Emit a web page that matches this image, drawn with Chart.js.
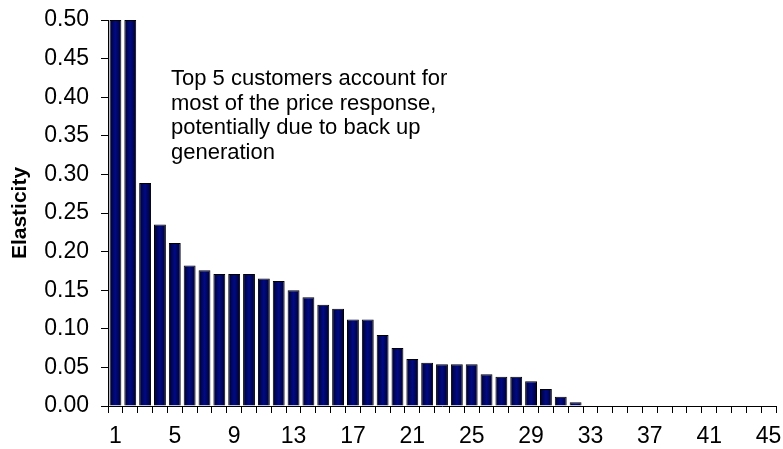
<!DOCTYPE html>
<html>
<head>
<meta charset="utf-8">
<script src="https://cdn.jsdelivr.net/npm/chart.js@4.4.1/dist/chart.umd.min.js"></script>
<style>
  html, body { margin: 0; padding: 0; background: #fff; }
  #wrap { width: 783px; height: 449px; }
</style>
</head>
<body>
<div id="wrap"><canvas id="myChart"></canvas></div>
<script>
// customers ranked by price elasticity
const customers = Array.from({ length: 45 }, (_, i) => String(i + 1));
const elasticity = [
  0.50, 0.50, 0.289, 0.235, 0.211, 0.182, 0.176, 0.171, 0.171, 0.171,
  0.165, 0.162, 0.150, 0.141, 0.131, 0.126, 0.112, 0.112, 0.092, 0.075,
  0.061, 0.056, 0.054, 0.054, 0.054, 0.041, 0.038, 0.038, 0.032, 0.022,
  0.012, 0.005, 0, 0, 0, 0, 0, 0, 0, 0,
  0, 0, 0, 0, 0
];
const yTicks = [0, 0.05, 0.10, 0.15, 0.20, 0.25, 0.30, 0.35, 0.40, 0.45, 0.50];
const noteLines = [
  "Top 5 customers account for",
  "most of the price response,",
  "potentially due to back up",
  "generation"
];

const FONT = "'Liberation Sans', Arial, sans-serif";

// navy bars, darker at the edges
function barFill(ctx) {
  const chart = ctx.chart;
  const xs = chart.scales.x;
  if (!xs || !chart.chartArea || ctx.dataIndex === undefined) return "#000a7a";
  const cx = xs.getPixelForValue(ctx.dataIndex);
  const w = xs.width / customers.length * 0.8;
  const g = chart.ctx.createLinearGradient(cx - w / 2, 0, cx + w / 2, 0);
  g.addColorStop(0, "#00002a");
  g.addColorStop(0.5, "#000a85");
  g.addColorStop(1, "#00002a");
  return g;
}

// text note inside the plot
const notePlugin = {
  id: "note",
  afterDraw(chart) {
    const c = chart.ctx;
    c.save();
    c.fillStyle = "#000";
    c.font = "22px " + FONT;
    c.textBaseline = "alphabetic";
    noteLines.forEach((t, i) => c.fillText(t, 171, 85 + i * 24.6));
    c.restore();
  }
};

const config = {
  type: "bar",
  data: {
    labels: customers,
    datasets: [
      {
        label: "Elasticity",
        data: elasticity,
        backgroundColor: barFill,
        borderColor: "#000",
        borderWidth: 1,
        borderSkipped: "bottom",
        barPercentage: 0.8,
        categoryPercentage: 1.0,
      },
    ],
  },
  options: {
    responsive: true,
    maintainAspectRatio: false,
    animation: false,
    layout: { padding: { top: 20, right: 7, left: 0, bottom: 0 } },
    plugins: {
      legend: { display: false },
      tooltip: { enabled: false },
    },
    scales: {
      x: {
        offset: true,
        afterFit: (axis) => {
          axis.height = 43;
          axis.paddingLeft = 0;
          axis.paddingRight = 0;
        },
        grid: {
          offset: true,
          drawOnChartArea: false,
          drawTicks: true,
          tickLength: 7,
          color: "#000",
        },
        border: { color: "#000", width: 1 },
        ticks: {
          autoSkip: false,
          maxRotation: 0,
          color: "#000",
          font: { family: FONT, size: 23 },
          padding: 10,
          callback: (v, i) => (i % 4 === 0 ? customers[i] : ""),
        },
      },
      y: {
        min: 0,
        max: 0.5,
        afterFit: (axis) => {
          axis.width = 108;
          axis.paddingTop = 0;
          axis.paddingBottom = 0;
        },
        afterBuildTicks: (axis) => {
          axis.ticks = yTicks.map((v) => ({ value: v }));
        },
        grid: {
          drawOnChartArea: false,
          drawTicks: true,
          tickLength: 7,
          color: "#000",
        },
        border: { color: "#000", width: 1 },
        ticks: {
          color: "#000",
          font: { family: FONT, size: 23 },
          padding: 12,
          callback: (v) => v.toFixed(2),
        },
        title: {
          display: true,
          text: "Elasticity",
          color: "#000",
          font: { family: FONT, size: 21, weight: "bold" },
          padding: { top: 8, bottom: 4 },
        },
      },
    },
  },
  plugins: [notePlugin],
};

const ctx = document.getElementById("myChart").getContext("2d");
new Chart(ctx, config);
</script>
</body>
</html>
